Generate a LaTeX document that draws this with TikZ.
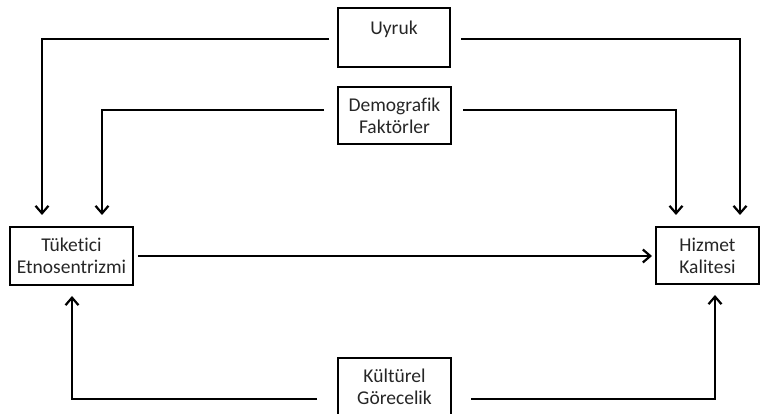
\documentclass[tikz,border=0pt]{standalone}
\usepackage{fontspec}
\setmainfont{Carlito}[Ligatures={NoCommon}]
\usetikzlibrary{arrows.meta}
\begin{document}
\begin{tikzpicture}[x=1pt,y=-1pt,
  box/.style={draw=black, line width=2pt, align=center, inner sep=0pt,
    text=black!85, font=\fontsize{19.5}{22}\selectfont},
  arr/.style={line width=2pt, -{Straight Barb[length=7.5pt,width=13pt,line width=2.2pt]}}]
\useasboundingbox (0,0) rectangle (761,414);
\node[box, minimum width=112pt, minimum height=59pt] (U) at (394,37.5) {};
\node[text=black!85, font=\fontsize{19.5}{22}\selectfont] (Ut) at (394,29) {Uyruk};
\node[box, minimum width=113pt, minimum height=57pt] (D) at (394.5,115.5) {Demografik\\Faktörler};
\node[box, minimum width=123pt, minimum height=58pt] (T) at (71.5,256) {Tüketici\\Etnosentrizmi};
\node[box, minimum width=103pt, minimum height=57pt] (H) at (707.5,255.5) {Hizmet\\Kalitesi};
\node[box, minimum width=113pt, minimum height=58pt] (K) at (394.5,387) {Kültürel\\Görecelik};
\draw[arr] ([xshift=-8pt,yshift=-1.5pt]U.west) -| ([xshift=-29.5pt,yshift=11pt]T.north);
\draw[arr] ([xshift=10pt,yshift=-1.5pt]U.east) -| ([xshift=32.5pt,yshift=11pt]H.north);
\draw[arr] ([xshift=-13pt,yshift=5.5pt]D.west) -| ([xshift=30.5pt,yshift=11pt]T.north);
\draw[arr] ([xshift=11pt,yshift=5.5pt]D.east) -| ([xshift=-31.5pt,yshift=11pt]H.north);
\draw[arr] ([xshift=4pt]T.east) -- ([xshift=-3pt,yshift=-0.5pt]H.west);
\draw[arr] ([xshift=-20pt,yshift=-12pt]K.west) -| ([xshift=0.5pt,yshift=-10pt]T.south);
\draw[arr] ([xshift=19pt,yshift=-12pt]K.east) -| ([xshift=7.5pt,yshift=-10pt]H.south);
\end{tikzpicture}
\end{document}
